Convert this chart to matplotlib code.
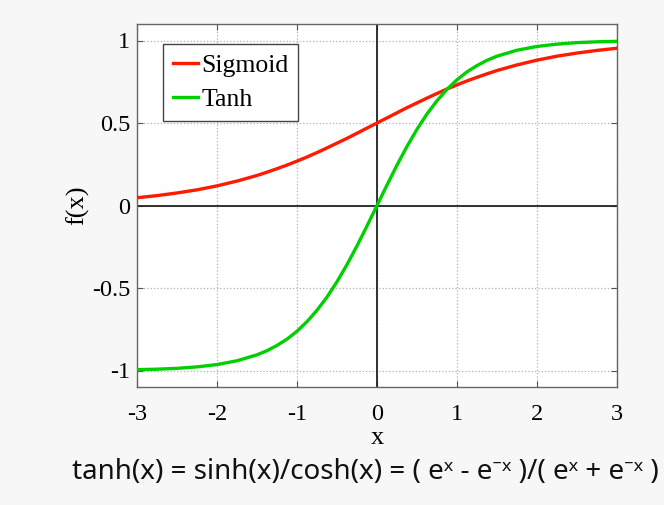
import matplotlib.pyplot as plt

# values
x_vals = [-3, -2.75, -2.5, -2.25, -2, -1.75, -1.5, -1.375, -1.25, -1.125, -1,
          -0.875, -0.75, -0.625, -0.5, -0.375, -0.25, -0.125, 0, 0.125, 0.25,
          0.375, 0.5, 0.625, 0.75, 0.875, 1, 1.125, 1.25, 1.375, 1.5, 1.75, 2,
          2.25, 2.5, 2.75, 3]
sigmoid_vals = [0.047, 0.060, 0.076, 0.095, 0.119, 0.148, 0.182, 0.202, 0.223,
                0.245, 0.269, 0.294, 0.321, 0.349, 0.378, 0.407, 0.438, 0.469,
                0.5, 0.531, 0.562, 0.593, 0.622, 0.651, 0.679, 0.706, 0.731,
                0.755, 0.777, 0.798, 0.818, 0.852, 0.881, 0.905, 0.924, 0.940,
                0.953]
tanh_vals = [-0.995, -0.992, -0.987, -0.978, -0.964, -0.941, -0.905, -0.880,
             -0.848, -0.810, -0.762, -0.704, -0.635, -0.555, -0.462, -0.358,
             -0.245, -0.124, 0, 0.124, 0.245, 0.358, 0.462, 0.555, 0.635,
             0.704, 0.762, 0.810, 0.848, 0.880, 0.905, 0.941, 0.964, 0.978,
             0.987, 0.992, 0.995]
x_ticks = [-3, -2, -1, 0, 1, 2, 3]
y_ticks = [-1, -0.5, 0, 0.5, 1]
y_tick_labels = ["-1", "-0.5", "0", "0.5", "1"]
formula = "tanh(x) = sinh(x)/cosh(x) = ( e\u02e3 - e\u207b\u02e3 )/( e\u02e3 + e\u207b\u02e3 )"

plt.rcParams['font.family'] = ['Liberation Serif', 'DejaVu Serif']

fig = plt.figure(figsize=(6.64, 5.05), dpi=100, facecolor='#f7f7f7')
ax = fig.add_axes([137 / 664, 1 - 387 / 505, 480 / 664, 363 / 505])
ax.set_facecolor('white')

ax.axhline(0, color='#222222', lw=1.3, zorder=2)
ax.axvline(0, color='#222222', lw=1.3, zorder=2)
ax.plot(x_vals, sigmoid_vals, color='#ff1a00', lw=2.4, label='Sigmoid', zorder=3)
ax.plot(x_vals, tanh_vals, color='#00d000', lw=2.4, label='Tanh', zorder=3)

ax.set_xlim(-3, 3)
ax.set_ylim(-1.1, 1.1)
ax.set_xticks(x_ticks)
ax.set_xticklabels([str(t) for t in x_ticks])
ax.set_yticks(y_ticks)
ax.set_yticklabels(y_tick_labels)
ax.tick_params(direction='in', length=4, color='#555555', labelsize=17.5,
               top=True, right=True)
ax.tick_params(axis='x', pad=12)
ax.tick_params(axis='y', pad=5)
ax.grid(True, linestyle=':', color='#b0b0b0', lw=0.9)
for s in ax.spines.values():
    s.set_color('#666666')
    s.set_linewidth(1.0)

ax.set_xlabel('x', fontsize=19, labelpad=2)
ax.set_ylabel('f(x)', fontsize=19, labelpad=2)

leg = ax.legend(loc='upper left', bbox_to_anchor=(0.054, 0.945), fontsize=18.5,
                fancybox=False, edgecolor='#444444', framealpha=1,
                handlelength=1.0, handletextpad=0.12, labelspacing=0.45,
                borderpad=0.38, borderaxespad=0)
leg.get_frame().set_linewidth(1.0)

fig.text(0.55, 1 - 472 / 505, formula, fontsize=20, ha='center', va='center',
         family=['Noto Sans', 'DejaVu Sans'], color='#111111')

fig.savefig('out.png', dpi=100, facecolor=fig.get_facecolor())
